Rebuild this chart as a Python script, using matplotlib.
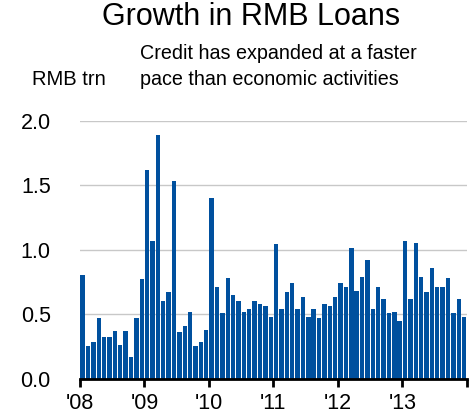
import matplotlib
matplotlib.use("Agg")
import matplotlib.pyplot as plt
import numpy as np

plt.rcParams['font.family'] = ['Liberation Sans', 'DejaVu Sans']

# Monthly new RMB loans, Jan 2008 - Dec 2013 (RMB trn)
loans_2008 = [0.80, 0.25, 0.28, 0.47, 0.32, 0.32, 0.37, 0.26, 0.37, 0.17, 0.47, 0.77]
loans_2009 = [1.62, 1.07, 1.89, 0.60, 0.67, 1.53, 0.36, 0.41, 0.52, 0.25, 0.28, 0.38]
loans_2010 = [1.40, 0.71, 0.51, 0.78, 0.65, 0.60, 0.52, 0.54, 0.60, 0.58, 0.56, 0.48]
loans_2011 = [1.04, 0.54, 0.67, 0.74, 0.54, 0.63, 0.48, 0.54, 0.47, 0.58, 0.56, 0.63]
loans_2012 = [0.74, 0.71, 1.01, 0.68, 0.79, 0.92, 0.54, 0.71, 0.62, 0.51, 0.52, 0.45]
loans_2013 = [1.07, 0.62, 1.05, 0.79, 0.67, 0.86, 0.71, 0.71, 0.78, 0.51, 0.62, 0.48]

year_labels = ["'08", "'09", "'10", "'11", "'12", "'13"]
y_ticks = [0.0, 0.5, 1.0, 1.5, 2.0]

loans = loans_2008 + loans_2009 + loans_2010 + loans_2011 + loans_2012 + loans_2013
months = np.arange(len(loans))

fig = plt.figure(figsize=(4.73, 4.17), dpi=100)
ax = fig.add_axes([0.169, 0.092, 0.818, 0.619])

ax.bar(months, loans, width=0.82, color="#00509E", zorder=2)

ax.set_xlim(-0.5, len(loans) - 0.5)
ax.set_ylim(0, 2.0)

# year boundaries as ticks, labels only for the year starts
year_edges = np.arange(0, len(loans) + 1, 12) - 0.5
ax.set_xticks(year_edges)
ax.set_xticklabels(year_labels + [""])
ax.tick_params(axis="x", direction="out", length=6, width=2, color="black",
               labelsize=15.5, pad=4)

ax.set_yticks(y_ticks)
ax.set_yticklabels([f"{v:.1f}" for v in y_ticks])
ax.tick_params(axis="y", length=0, labelsize=15.5, pad=21)
ax.yaxis.grid(True, color="#c8c8c8", linewidth=1, zorder=0)

for side in ["top", "right", "left"]:
    ax.spines[side].set_visible(False)
ax.spines["bottom"].set_linewidth(2)
ax.spines["bottom"].set_zorder(3)

fig.text(0.531, 0.94, "Growth in RMB Loans", fontsize=22, ha="center", va="baseline")
fig.text(0.296, 0.858, "Credit has expanded at a faster", fontsize=14.2,
         ha="left", va="baseline")
fig.text(0.296, 0.797, "pace than economic activities", fontsize=14.2,
         ha="left", va="baseline")
fig.text(0.068, 0.797, "RMB trn", fontsize=14.5, ha="left", va="baseline")

fig.savefig("out.png", dpi=100)
